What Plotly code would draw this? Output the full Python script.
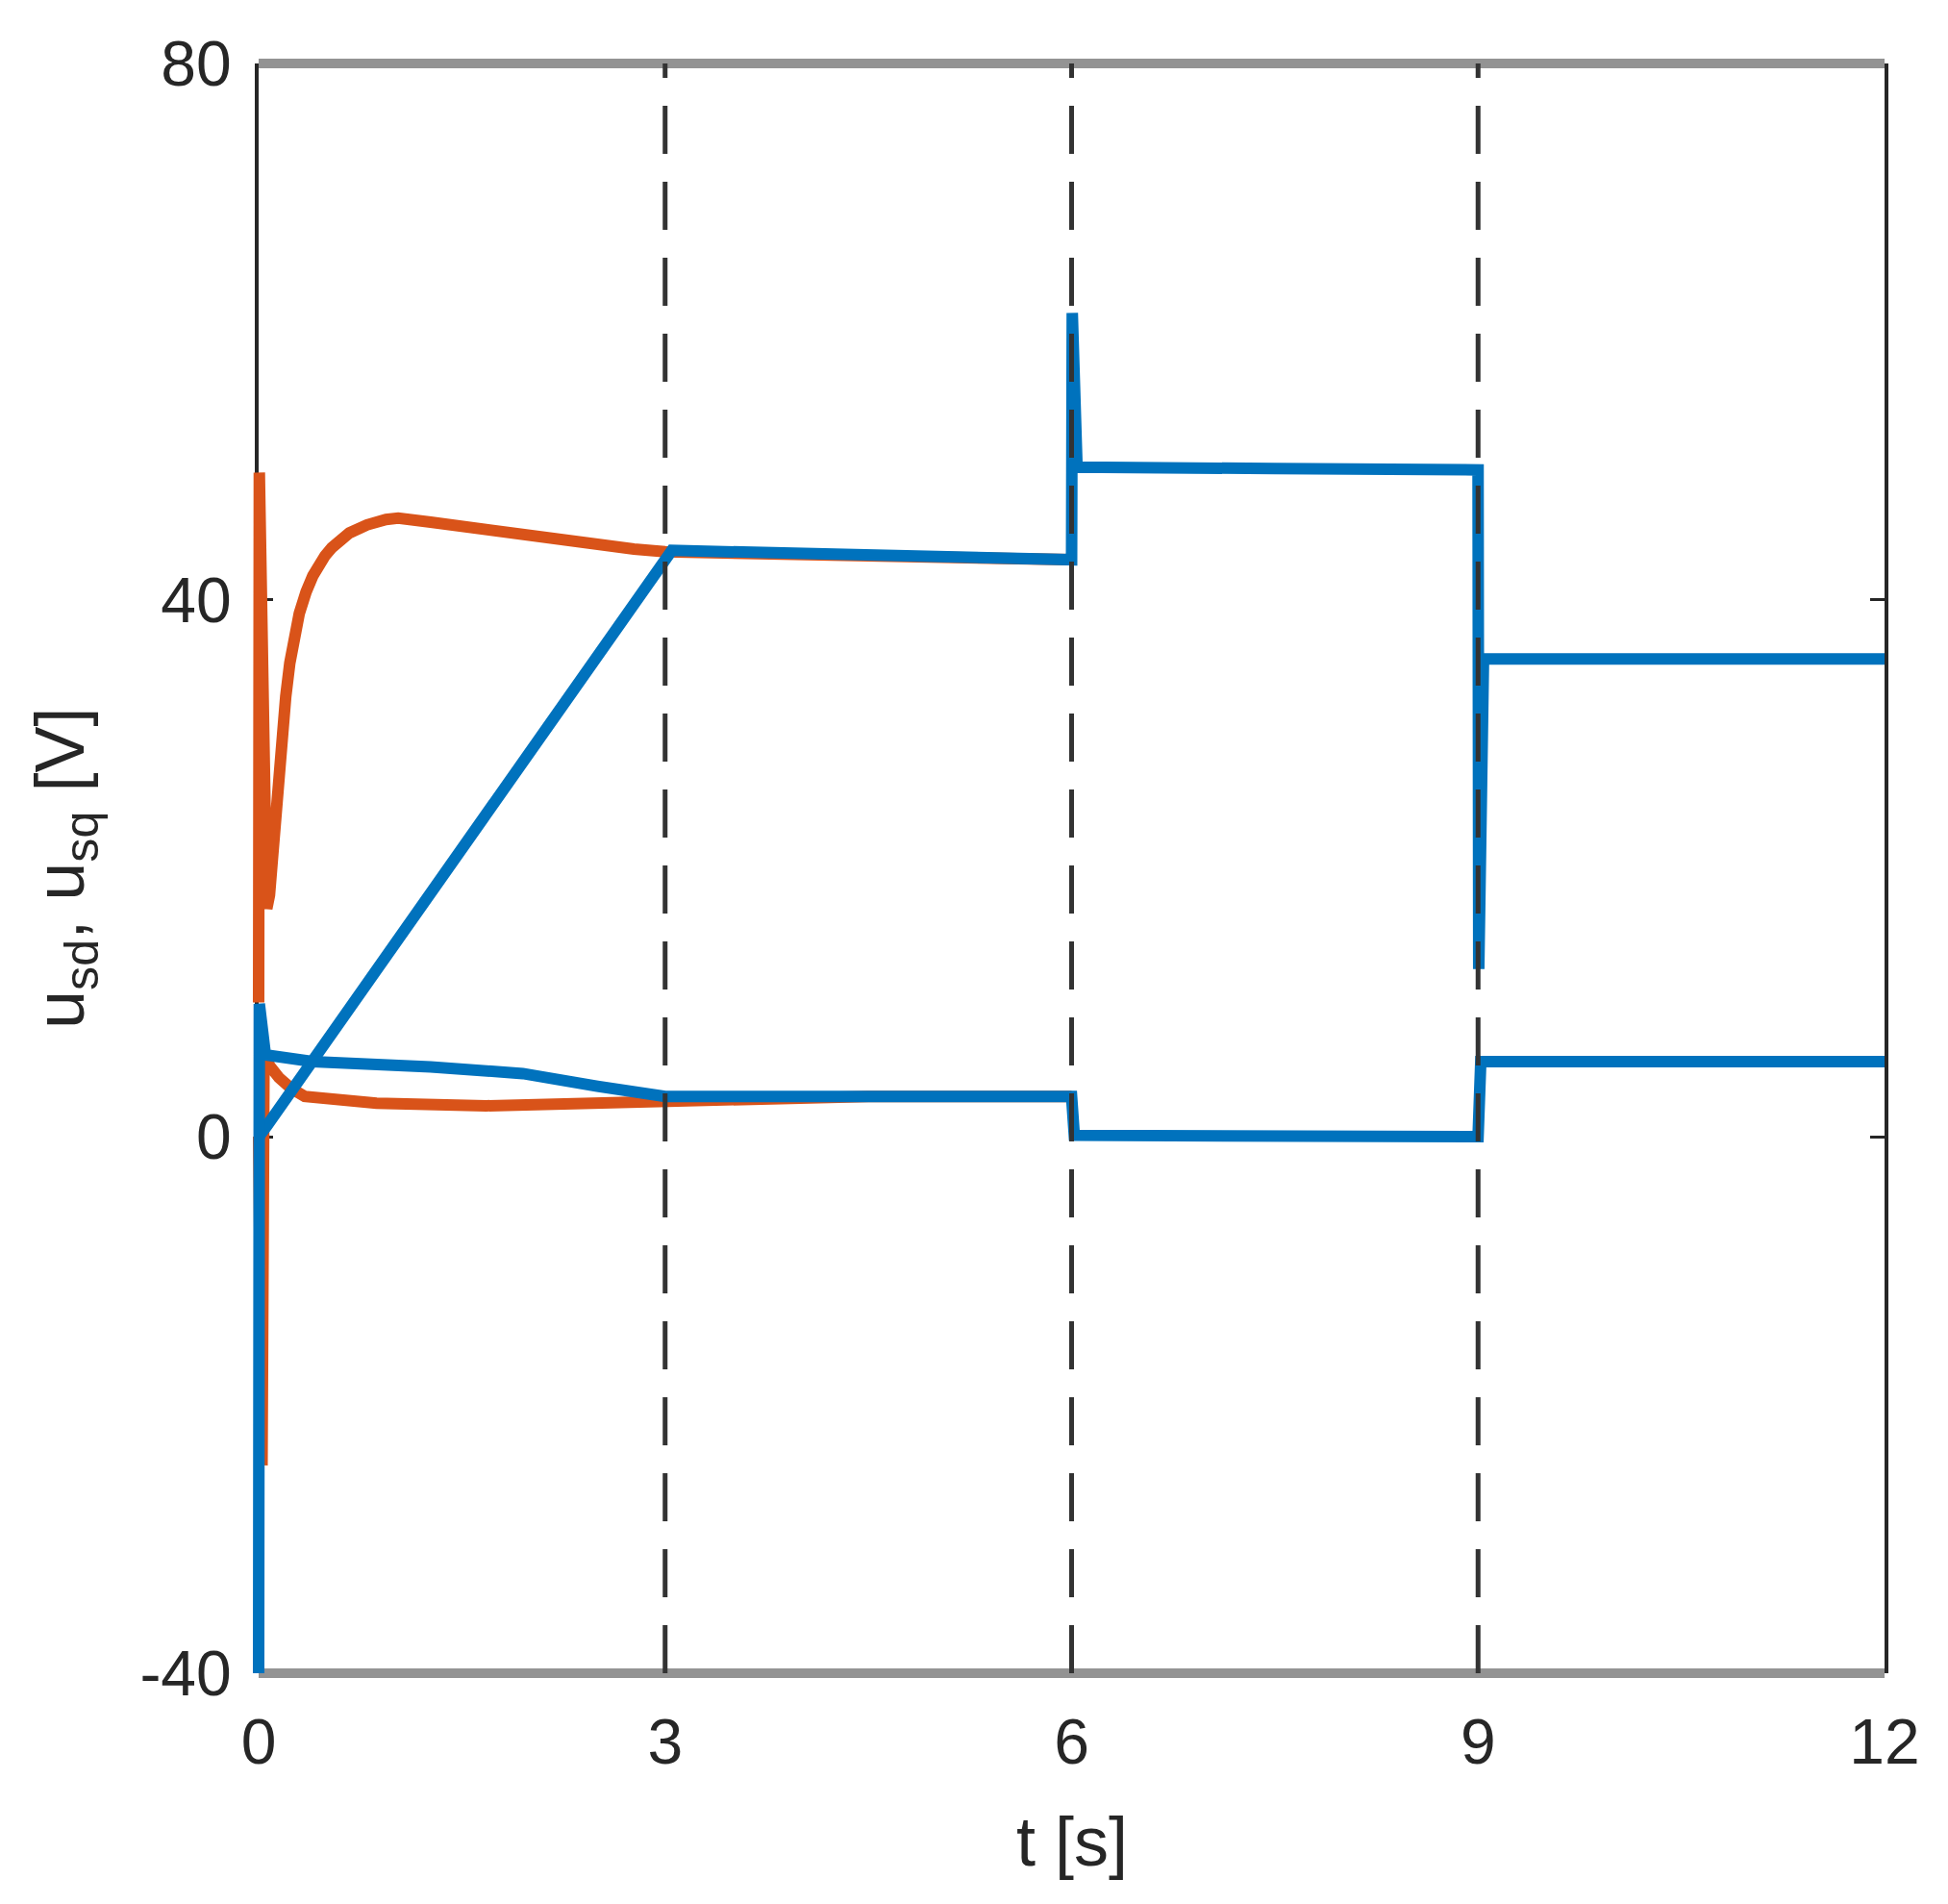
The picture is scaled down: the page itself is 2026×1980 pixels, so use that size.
import plotly.graph_objects as go

# series (t in s, u in V)
t_usq_a = [0, 0.005, 0.06, 0.08, 0.1, 0.12, 0.14, 0.165, 0.2, 0.23, 0.27, 0.3, 0.35, 0.4,
           0.49, 0.54, 0.67, 0.8, 0.94, 1.03, 1.27, 1.55, 1.95, 2.36, 2.77, 3.0, 4.5, 6.0]
u_usq_a = [10, 49.5, 17.0, 18.0, 20.5, 23.5, 26.3, 29.3, 32.8, 35.3, 37.6, 39.0, 40.6, 41.8,
           43.3, 43.9, 45.0, 45.6, 46.0, 46.1, 45.8, 45.4, 44.8, 44.3, 43.8, 43.6, 43.3, 43.0]

t_usd_a = [0, 0.025, 0.04, 0.08, 0.15, 0.24, 0.34, 0.43, 0.87, 1.68, 2.5, 3.0, 4.5, 6.0]
u_usd_a = [0, -24.5, 6.5, 5.3, 4.4, 3.6, 3.0, 2.9, 2.5, 2.3, 2.5, 2.8, 3.0, 3.0]

t_usq_b = [0, 0.06, 3.05, 4.5, 6.0, 6.005, 6.04, 7.5, 9.0, 9.005, 9.04, 12]
u_usq_b = [0, 0.8, 43.7, 43.3, 43.0, 61.4, 49.9, 49.8, 49.7, 12.5, 35.6, 35.6]

t_usd_b = [0, 0.005, 0.05, 0.4, 1.27, 1.95, 2.5, 3.0, 4.5, 6.0, 6.02, 9.0, 9.02, 12]
u_usd_b = [-40, 9.9, 6.1, 5.6, 5.2, 4.7, 3.75, 3.0, 3.0, 3.0, 0.1, 0.0, 5.6, 5.6]

event_times = [3, 6, 9]
u_limits = [80, -40]
t_range = [0, 12]
u_range = [-40, 80]
t_ticks = [0, 3, 6, 9, 12]
u_ticks = [-40, 0, 40, 80]
u_ticktext = ["-40", "0", "40", "80"]

blue = "#0072BD"
orange = "#D95319"
axis_col = "#262626"
font = "Liberation Sans"

# page body has an 8px margin, so the figure is a bit smaller than the window
W, H = 2010, 1964
box_l, box_t = 261, 39       # axes box corner in figure px
box_w, box_h = 1692, 1693    # axes box size in px
pad = 9                      # room around the box so thick lines at the edge are not cut

px_t = box_w / (t_range[1] - t_range[0])
px_u = box_h / (u_range[1] - u_range[0])
plot_l, plot_t = box_l - pad, box_t - pad
plot_w, plot_h = box_w + 2 * pad, box_h + 2 * pad
dom_x = pad / plot_w
dom_y = pad / plot_h


def paper_x(px):
    return (px - plot_l) / plot_w


def paper_y(py):
    return (plot_t + plot_h - py) / plot_h


fig = go.Figure()

# empty trace so the frame subplot (ticks, box) gets drawn
fig.add_trace(go.Scatter(x=[], y=[], xaxis="x", yaxis="y", hoverinfo="skip"))

data_ax = dict(xaxis="x2", yaxis="y2", mode="lines", hoverinfo="skip")

# gray limit lines top and bottom
for lim in u_limits:
    fig.add_trace(go.Scatter(x=t_range, y=[lim, lim], line=dict(color="#939393", width=10),
                             **data_ax))

for t, u in [(t_usq_a, u_usq_a), (t_usd_a, u_usd_a)]:
    fig.add_trace(go.Scatter(x=t, y=u, line=dict(color=orange, width=12), **data_ax))
for t, u in [(t_usq_b, u_usq_b), (t_usd_b, u_usd_b)]:
    fig.add_trace(go.Scatter(x=t, y=u, line=dict(color=blue, width=12), **data_ax))

for te in event_times:
    fig.add_trace(go.Scatter(x=[te, te], y=u_range,
                             line=dict(color="#333333", width=5, dash="50px,29px"),
                             **data_ax))

fig.update_layout(
    width=W, height=H,
    margin=dict(l=plot_l, r=W - plot_l - plot_w, t=plot_t, b=H - plot_t - plot_h, pad=0),
    paper_bgcolor="white", plot_bgcolor="rgba(0,0,0,0)",
    showlegend=False,
    font=dict(family=font, size=66, color=axis_col),
    xaxis=dict(domain=[dom_x, 1 - dom_x], anchor="y", range=t_range, tickvals=t_ticks,
               showgrid=False, zeroline=False, showline=False, ticks="",
               ticklabelstandoff=27, tickfont=dict(size=66, color=axis_col)),
    yaxis=dict(domain=[dom_y, 1 - dom_y], anchor="x", range=u_range, tickvals=u_ticks,
               ticktext=u_ticktext, showgrid=False, zeroline=False,
               showline=True, linecolor=axis_col, linewidth=4, mirror="ticks",
               ticks="inside", ticklen=15, tickwidth=3, tickcolor=axis_col,
               ticklabelstandoff=11, tickfont=dict(size=66, color=axis_col)),
    xaxis2=dict(domain=[0, 1], anchor="y2", visible=False,
                range=[t_range[0] - pad / px_t, t_range[1] + pad / px_t]),
    yaxis2=dict(domain=[0, 1], anchor="x2", visible=False,
                range=[u_range[0] - pad / px_u, u_range[1] + pad / px_u]),
    annotations=[
        dict(text="t [s]", xref="paper", yref="paper",
             x=paper_x(box_l + box_w / 2), y=paper_y(1909),
             xanchor="center", yanchor="middle", showarrow=False,
             font=dict(family=font, size=72, color=axis_col)),
        dict(text="u<sub>sd</sub>, u<sub>sq</sub> [V]", xref="paper", yref="paper",
             x=paper_x(59), y=paper_y(box_t + box_h / 2), textangle=-90,
             xanchor="center", yanchor="middle",
             showarrow=False, font=dict(family=font, size=72, color=axis_col)),
    ],
)

fig.write_html("out.html")
